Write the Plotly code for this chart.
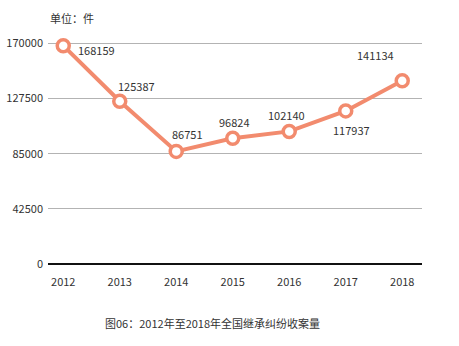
import plotly.graph_objects as go

# 全国继承纠纷收案量（件）
years = ["2012", "2013", "2014", "2015", "2016", "2017", "2018"]
cases = [168159, 125387, 86751, 96824, 102140, 117937, 141134]
y_ticks = [0, 42500, 85000, 127500, 170000]

# label offsets (px) relative to each point
label_dx = [33, 17, 11, 2, -3, 6, -27]
label_dy = [-4, 15, 17, 16, 16, -19, 26]

LINE = "#F28B6E"
FONT = "Noto Sans CJK SC, Noto Sans, sans-serif"
TEXT = "#333333"
FS = 11

W, H = 459, 346
ML, MR, MT, MB = 48, 37, 42, 82
Y_MAX = 171000  # headroom so the 170000 gridline is drawn inside the plot

fig = go.Figure()
fig.add_trace(go.Scatter(
    x=list(range(len(years))), y=cases, mode="lines+markers",
    line=dict(color=LINE, width=4),
    marker=dict(size=12, color="white", line=dict(color=LINE, width=3.5)),
    cliponaxis=False, hoverinfo="skip", showlegend=False,
))

for i, v in enumerate(cases):
    fig.add_annotation(x=i, y=v, text=str(v), showarrow=False,
                       xshift=label_dx[i], yshift=label_dy[i],
                       font=dict(family=FONT, size=FS, color=TEXT))

plot_h = H - MT - MB
fig.add_annotation(xref="paper", yref="paper", x=0, xanchor="left",
                   y=1 + (MT - 18) / plot_h, yanchor="middle",
                   text="单位：件", showarrow=False,
                   font=dict(family=FONT, size=FS, color=TEXT))
fig.add_annotation(xref="paper", yref="paper",
                   x=(212 - ML) / (W - ML - MR), xanchor="center",
                   y=-(323 - (H - MB)) / plot_h, yanchor="middle",
                   text="图06：2012年至2018年全国继承纠纷收案量", showarrow=False,
                   font=dict(family=FONT, size=FS, color=TEXT))

fig.update_xaxes(
    range=[-0.27, 6.35], tickmode="array",
    tickvals=list(range(len(years))), ticktext=years,
    showgrid=False, zeroline=False, showline=False, automargin=False,
    ticks="", ticklabelstandoff=10,
    tickfont=dict(family=FONT, size=FS, color=TEXT),
)
fig.update_yaxes(
    range=[0, Y_MAX], tickmode="array", tickvals=y_ticks,
    ticktext=[str(t) for t in y_ticks],
    showgrid=True, gridcolor="#B3B3B3", gridwidth=1,
    zeroline=True, zerolinecolor="#111111", zerolinewidth=2,
    showline=False, ticks="", ticklabelstandoff=4, automargin=False,
    tickfont=dict(family=FONT, size=FS, color=TEXT),
)
fig.update_layout(
    width=W, height=H, margin=dict(l=ML, r=MR, t=MT, b=MB),
    paper_bgcolor="white", plot_bgcolor="white",
)
fig.write_html("out.html")
